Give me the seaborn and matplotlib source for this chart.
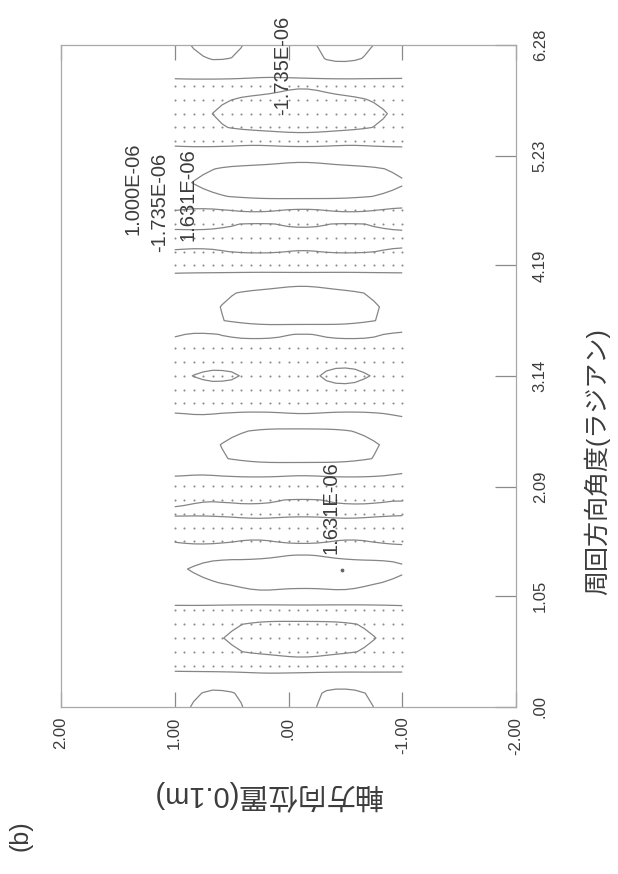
import numpy as np
import pandas as pd
import matplotlib
matplotlib.use("Agg")
import matplotlib.pyplot as plt
import seaborn as sns

# ---------------- data ----------------
# grid: 49 circumferential nodes (0..2pi) x 25 axial nodes (-1..1, unit 0.1 m)
theta_nodes = np.linspace(0.0, 2 * np.pi, 49)
axial_nodes = np.linspace(-1.0, 1.0, 25)

# amplitude of each circumferential row (x1e-6) at the axial centre
row_amplitude = [0.60, 0.60, 0.59, -0.67, -1.15, -1.30, -1.15, -0.50, 0.75, 1.25,
                 1.63, 0.93, -0.05, -0.60, -1.15, -0.99, -0.50, 0.21, 1.34, 1.45,
                 1.15, 0.30, -0.60, -0.75, -0.72, -0.75, -0.40, 0.10, 1.39, 1.45,
                 1.25, 0.63, -0.63, -1.02, -1.20, -0.99, 0.02, 1.20, 1.60, 1.30,
                 0.55, -0.30, -1.35, -1.735, -1.30, -0.80, 0.53, 0.60, 0.60]
# how flat each row is across the axial direction (1 = flat, 0 = dome)
row_flatness = [0.50, 0.50, 0.60, 0.40, 0.28, 0.28, 0.28, 0.50, 0.60, 0.447,
                0.447, 0.50, 0.60, 0.80, 0.95, 0.90, 0.70, 0.60, 0.114, 0.114,
                0.114, 0.50, 0.60, 0.80, 0.80, 0.80, 0.60, 0.50, 0.114, 0.114,
                0.114, 0.50, 0.70, 0.95, 0.95, 0.90, 0.60, 0.42, 0.42, 0.42,
                0.50, 0.50, 0.10, 0.00, 0.10, 0.50, 0.50, 0.50, 0.50]
# two-lobed part of each row (x1e-6)
row_twin = [0.75, 0.60, 0.15, 0, 0, 0, 0, 0, 0, 0,
            0, 0, 0, 0, 0, 0, 0, 0, 0, 0,
            0, 0, 0, -0.15, -0.45, -0.15, 0, 0, 0, 0,
            0, 0, 0, 0, 0, 0, 0, 0, 0, 0,
            0, 0, 0, 0, 0, 0, 0.20, 0.55, 0.75]
# undulating part of each row (x1e-6)
row_wave = [0, 0, 0.35, -0.28, 0, 0, 0, 0.28, -0.35, 0,
            0, 0.28, -0.40, 0.25, 0.05, -0.12, 0.35, -0.28, 0, 0,
            0, -0.40, 0.35, 0, 0, 0, 0.40, -0.40, 0, 0,
            0, 0.35, -0.40, 0.12, -0.05, 0.18, -0.35, 0, 0, 0,
            0.35, -0.35, 0, 0, 0, -0.40, 0.40, 0, 0]
# axial shapes (axial -1 .. 1)
axial_dome = [0.421, 0.523, 0.616, 0.698, 0.771, 0.833, 0.886, 0.928, 0.961, 0.984,
              0.997, 1.000, 0.993, 0.976, 0.949, 0.913, 0.866, 0.809, 0.743, 0.667,
              0.580, 0.484, 0.378, 0.261, 0.136]
axial_twin = [0.20, 0.35, 0.50, 0.65, 0.80, 0.95, 1.00, 0.95, 0.80, 0.55,
              0.25, 0.00, -0.15, -0.20, -0.10, 0.10, 0.40, 0.65, 0.85, 0.95,
              1.00, 0.95, 0.85, 0.70, 0.50]
axial_wave = [0.50, 0.40, 0.20, 0.00, -0.20, -0.30, -0.30, -0.20, 0.00, 0.20,
              0.30, 0.30, 0.20, 0.00, -0.20, -0.30, -0.30, -0.20, 0.00, 0.15,
              0.30, 0.35, 0.30, 0.15, 0.00]

# rows of grid nodes marked with dots (negative region)
dotted_rows = [3, 4, 5, 6, 7, 12, 13, 14, 15, 16, 22, 23, 24, 25, 26,
               32, 33, 34, 35, 36, 41, 42, 43, 44, 45]

contour_min = -1.735e-06
contour_max = 1.631e-06
contour_interval = 1.000e-06
max_point = (-0.47, 1.30)      # (axial, angle) of the maximum
min_point = (0.05, 5.62)       # (axial, angle) of the minimum

axial_ticks = [2.0, 1.0, 0.0, -1.0, -2.0]
axial_ticklabels = ["2.00", "1.00", ".00", "-1.00", "-2.00"]
theta_ticks = [0.0, 1.05, 2.09, 3.14, 4.19, 5.23, 6.28]
theta_ticklabels = [".00", "1.05", "2.09", "3.14", "4.19", "5.23", "6.28"]

# ---------------- build field ----------------
amp = np.array(row_amplitude)[:, None]
flat = np.array(row_flatness)[:, None]
twin = np.array(row_twin)[:, None]
wave = np.array(row_wave)[:, None]
dome = np.array(axial_dome)[None, :]
tw = np.array(axial_twin)[None, :]
aw = np.array(axial_wave)[None, :]
Z = (amp * (flat + (1 - flat) * dome) + twin * tw + wave * aw) * 1e-6

# ---------------- plot ----------------
sns.set_theme(style="white")
plt.rcParams["font.family"] = ["Liberation Sans", "Noto Sans CJK JP", "DejaVu Sans"]

W, H = 618, 874
fig = plt.figure(figsize=(W / 100, H / 100), dpi=100)
ax = fig.add_axes([61 / W, 1 - 707 / H, (516 - 61) / W, (707 - 45) / H])

line_col = "#858585"
text_col = "#3c3c3c"

ax.contour(axial_nodes, theta_nodes, Z,
           levels=[-contour_interval, 0.0, contour_interval],
           colors=line_col, linewidths=0.9, linestyles="solid")

dots = pd.DataFrame([(a, theta_nodes[r]) for r in dotted_rows for a in axial_nodes],
                    columns=["axial", "theta"])
sns.scatterplot(data=dots, x="axial", y="theta", s=2.2, color="#8c8c8c",
                linewidth=0, legend=False, ax=ax)

ax.scatter([max_point[0]], [max_point[1]], s=3, color="#666666", zorder=5)

ax.set_xlim(2, -2)
ax.set_ylim(0, 6.28)
ax.set_xlabel("")
ax.set_ylabel("")

ax.set_xticks(axial_ticks)
ax.set_xticklabels(axial_ticklabels, rotation=90, fontsize=12, color=text_col)
ax.yaxis.tick_right()
ax.set_yticks(theta_ticks)
ax.set_yticklabels(theta_ticklabels, rotation=90, fontsize=12, color=text_col, va="center")
ax.tick_params(axis="x", direction="in", length=11, width=0.9, color="#8a8a8a",
               top=True, bottom=True, pad=7)
ax.tick_params(axis="y", direction="in", length=15, width=0.9, color="#8a8a8a",
               right=True, left=False, pad=12)
for s in ax.spines.values():
    s.set_color("#a8a8a8")
    s.set_linewidth(0.9)

fmt = lambda v: f"{v:.3E}"
lab_kw = dict(rotation=90, fontsize=14.5, color=text_col, ha="center", va="bottom")
ax.text(1.37, 4.48, fmt(contour_interval), **lab_kw)
ax.text(1.13, 4.32, fmt(contour_min), **lab_kw)
ax.text(0.88, 4.42, fmt(contour_max), **lab_kw)
ax.text(min_point[0], min_point[1], fmt(contour_min), clip_on=False, **lab_kw)
ax.text(max_point[0] + 0.1, max_point[1] + 0.15, fmt(contour_max), **lab_kw)

fig.text(597 / W, 1 - 462 / H, "周回方向角度(ラジアン)", rotation=90, fontsize=18,
         color=text_col, ha="center", va="center")
fig.text(267 / W, 1 - 795 / H, "軸方向位置(0.1m)", rotation=180, fontsize=21,
         color=text_col, ha="center", va="center")
fig.text(20 / W, 1 - 836 / H, "(b)", rotation=90, fontsize=18,
         color=text_col, ha="center", va="center")

fig.savefig("out.png", dpi=100, facecolor="white")
